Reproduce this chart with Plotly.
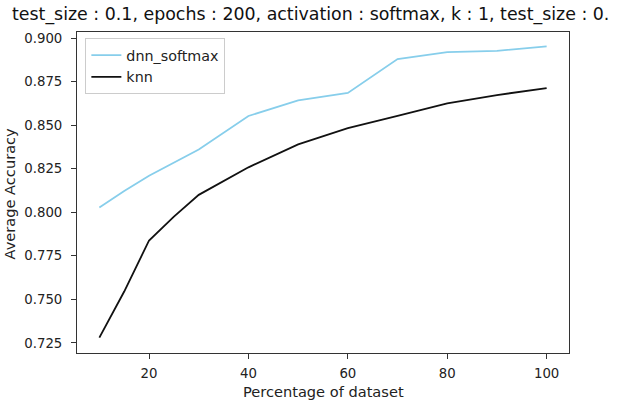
import plotly.graph_objects as go

pct = [10, 15, 20, 25, 30, 40, 50, 60, 70, 80, 90, 100]
dnn_softmax = [0.8028, 0.8122, 0.8210, 0.8285, 0.8360, 0.8553, 0.8643, 0.8685, 0.8880, 0.8920, 0.8927, 0.8952]
knn = [0.7280, 0.7545, 0.7838, 0.7975, 0.8100, 0.8258, 0.8390, 0.8483, 0.8553, 0.8625, 0.8673, 0.8713]

x_ticks = [20, 40, 60, 80, 100]
y_ticks = [0.725, 0.750, 0.775, 0.800, 0.825, 0.850, 0.875, 0.900]

# the reference title is clipped at the right edge after "test_size : 0."
title_text = "test_size : 0.1, epochs : 200, activation : softmax, k : 1, test_size : 0."
x_title = "Percentage of dataset"
y_title = "Average Accuracy"
FONT = "DejaVu Sans"

L, R, T, B = 77, 52, 32, 49
PW, PH = 621 - L - R, 402 - T - B

fig = go.Figure()
fig.add_trace(go.Scatter(x=pct, y=dnn_softmax, mode="lines", name="dnn_softmax",
                         line=dict(color="#87CEEB", width=1.8)))
fig.add_trace(go.Scatter(x=pct, y=knn, mode="lines", name="knn",
                         line=dict(color="#111111", width=1.8)))

axis_common = dict(showgrid=False, zeroline=False, showline=True, linecolor="#333333",
                   linewidth=1, mirror=True, ticks="outside", ticklen=5, tickwidth=1,
                   tickcolor="#333333", automargin=False,
                   tickfont=dict(family=FONT, size=13.3, color="#222222"))

fig.update_layout(
    width=621, height=402,
    margin=dict(l=L, r=R, t=T, b=B, autoexpand=False),
    paper_bgcolor="white", plot_bgcolor="white",
    font=dict(family=FONT, color="#222222"),
    title=dict(text=title_text, x=12/621, xanchor="left", xref="container",
               y=1 - 14/402, yanchor="middle", yref="container", automargin=False,
               font=dict(family=FONT, size=17.4, color="#111111")),
    xaxis=dict(range=[5.5, 104.5], tickvals=x_ticks, ticktext=[str(v) for v in x_ticks],
               ticklabelstandoff=3, **axis_common),
    yaxis=dict(range=[0.7192, 0.9035], tickvals=y_ticks, ticktext=[f"{v:.3f}" for v in y_ticks],
               ticklabelstandoff=6, **axis_common),
    legend=dict(x=0.017, y=0.98, xanchor="left", yanchor="top",
                bgcolor="rgba(255,255,255,0.8)", bordercolor="#cccccc", borderwidth=1,
                font=dict(family=FONT, size=14.3, color="#222222"), tracegroupgap=0),
    showlegend=True,
    annotations=[
        dict(text=x_title, xref="paper", yref="paper", x=0.5, y=-(391 - (T + PH)) / PH,
             xanchor="center", yanchor="middle", showarrow=False,
             font=dict(family=FONT, size=14.6, color="#222222")),
        dict(text=y_title, xref="paper", yref="paper", x=(9 - L) / PW, y=0.497,
             xanchor="center", yanchor="middle", textangle=-90, showarrow=False,
             font=dict(family=FONT, size=14.6, color="#222222")),
    ],
)

fig.write_html("out.html")
